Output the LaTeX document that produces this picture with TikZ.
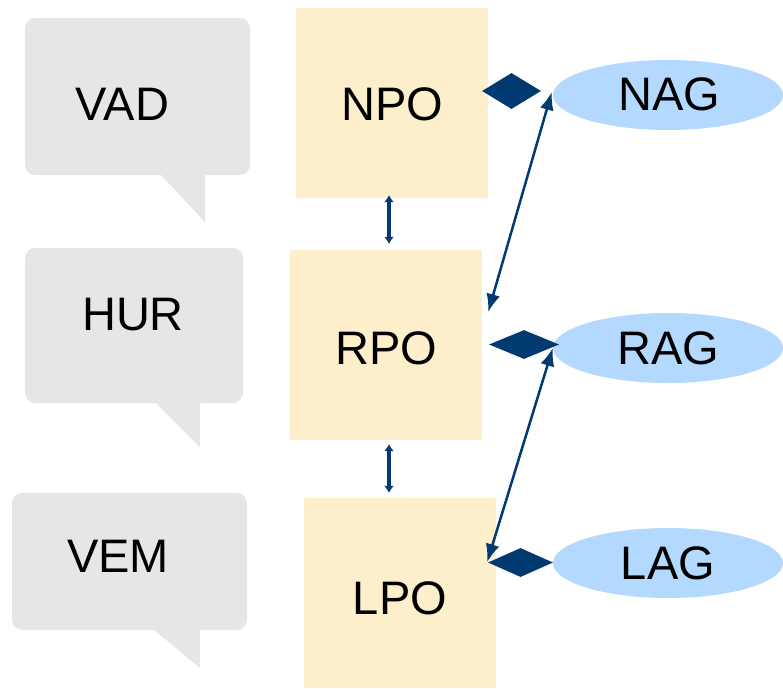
\documentclass[tikz,border=0pt]{standalone}
\usepackage{fontspec}
\setmainfont{Liberation Sans}
\usetikzlibrary{shapes.geometric,arrows.meta,calc}

\definecolor{boxyellow}{RGB}{253,239,204}
\definecolor{bubblegray}{RGB}{230,230,230}
\definecolor{agblue}{RGB}{179,217,255}
\definecolor{linkblue}{RGB}{0,58,112}

\tikzset{
  lbl/.style={font=\fontsize{47}{51}\selectfont, inner sep=0pt, text=black},
  pobox/.style={rectangle, fill=boxyellow, draw=none, inner sep=0pt,
    minimum width=192pt, minimum height=190pt},
  agnode/.style={ellipse, fill=agblue, draw=none, inner sep=0pt,
    minimum width=230pt, minimum height=70pt},
  bubble/.style={rectangle, rounded corners=10pt, fill=bubblegray, draw=none, inner sep=0pt},
  joint/.style={diamond, fill=linkblue, draw=none, inner sep=0pt},
  vlink/.style={draw=linkblue, line width=4.5pt,
    {Latex[length=7pt,width=10pt]}-{Latex[length=7pt,width=10pt]}},
  dlink/.style={draw=linkblue, line width=2.5pt,
    {Latex[length=18pt,width=14pt]}-{Latex[length=18pt,width=14pt]}},
}

\begin{document}
\begin{tikzpicture}[x=1pt,y=-1pt]
\useasboundingbox (0,0) rectangle (783,688);

% speech bubbles on the left
\node[bubble, minimum width=225pt, minimum height=157pt] (vadb) at (137.5,96.5) {};
\fill[bubblegray] ($(vadb.south east)+(-90,-1)$) -- ($(vadb.south east)+(-45,-1)$) -- ($(vadb.south east)+(-45,47)$) -- cycle;
\node[lbl] (vad) at (122.5,104) {VAD};

\node[bubble, minimum width=218pt, minimum height=155pt] (hurb) at (134,325.5) {};
\fill[bubblegray] ($(hurb.south east)+(-88,-1)$) -- ($(hurb.south east)+(-43,-1)$) -- ($(hurb.south east)+(-43,44)$) -- cycle;
\node[lbl] (hur) at (133,315) {HUR};

\node[bubble, minimum width=235pt, minimum height=137pt] (vemb) at (129.5,561.5) {};
\fill[bubblegray] ($(vemb.south east)+(-94,-1)$) -- ($(vemb.south east)+(-47,-1)$) -- ($(vemb.south east)+(-47,38)$) -- cycle;
\node[lbl] (vem) at (118,556.5) {VEM};

% PO boxes
\node[pobox] (npo) at (392,103) {};
\node[lbl] at (392.5,104) {NPO};
\node[pobox] (rpo) at (386,345) {};
\node[lbl] at (386,348) {RPO};
\node[pobox] (lpo) at (400,593) {};
\node[lbl] at (400,598) {LPO};

% AG ellipses
\node[agnode] (nag) at (668,95) {};
\node[lbl] at (669.5,94.5) {NAG};
\node[agnode] (rag) at (668,348) {};
\node[lbl] at (668,348) {RAG};
\node[agnode] (lag) at (668,563) {};
\node[lbl] at (668,563) {LAG};

% composition diamonds
\node[joint, minimum width=59pt, minimum height=36pt] (dn) at (511.5,91) {};
\node[joint, minimum width=70pt, minimum height=29pt] (dr) at (524,344.5) {};
\node[joint, minimum width=65pt, minimum height=29pt] (dl) at (520.5,562.5) {};

% links between PO boxes
\draw[vlink] ($(npo.south)+(-3,-3)$) -- ($(rpo.north)+(3,-6)$);
\draw[vlink] ($(rpo.south)+(3,4)$) -- ($(lpo.north)+(-11,-5)$);

% links between AG and PO
\draw[dlink] ($(nag.west)+(-1,-3)$) -- ($(rpo.east)+(6,-33)$);
\draw[dlink] (rag.west) -- ($(lpo.east)+(-9,-31)$);
\end{tikzpicture}
\end{document}
